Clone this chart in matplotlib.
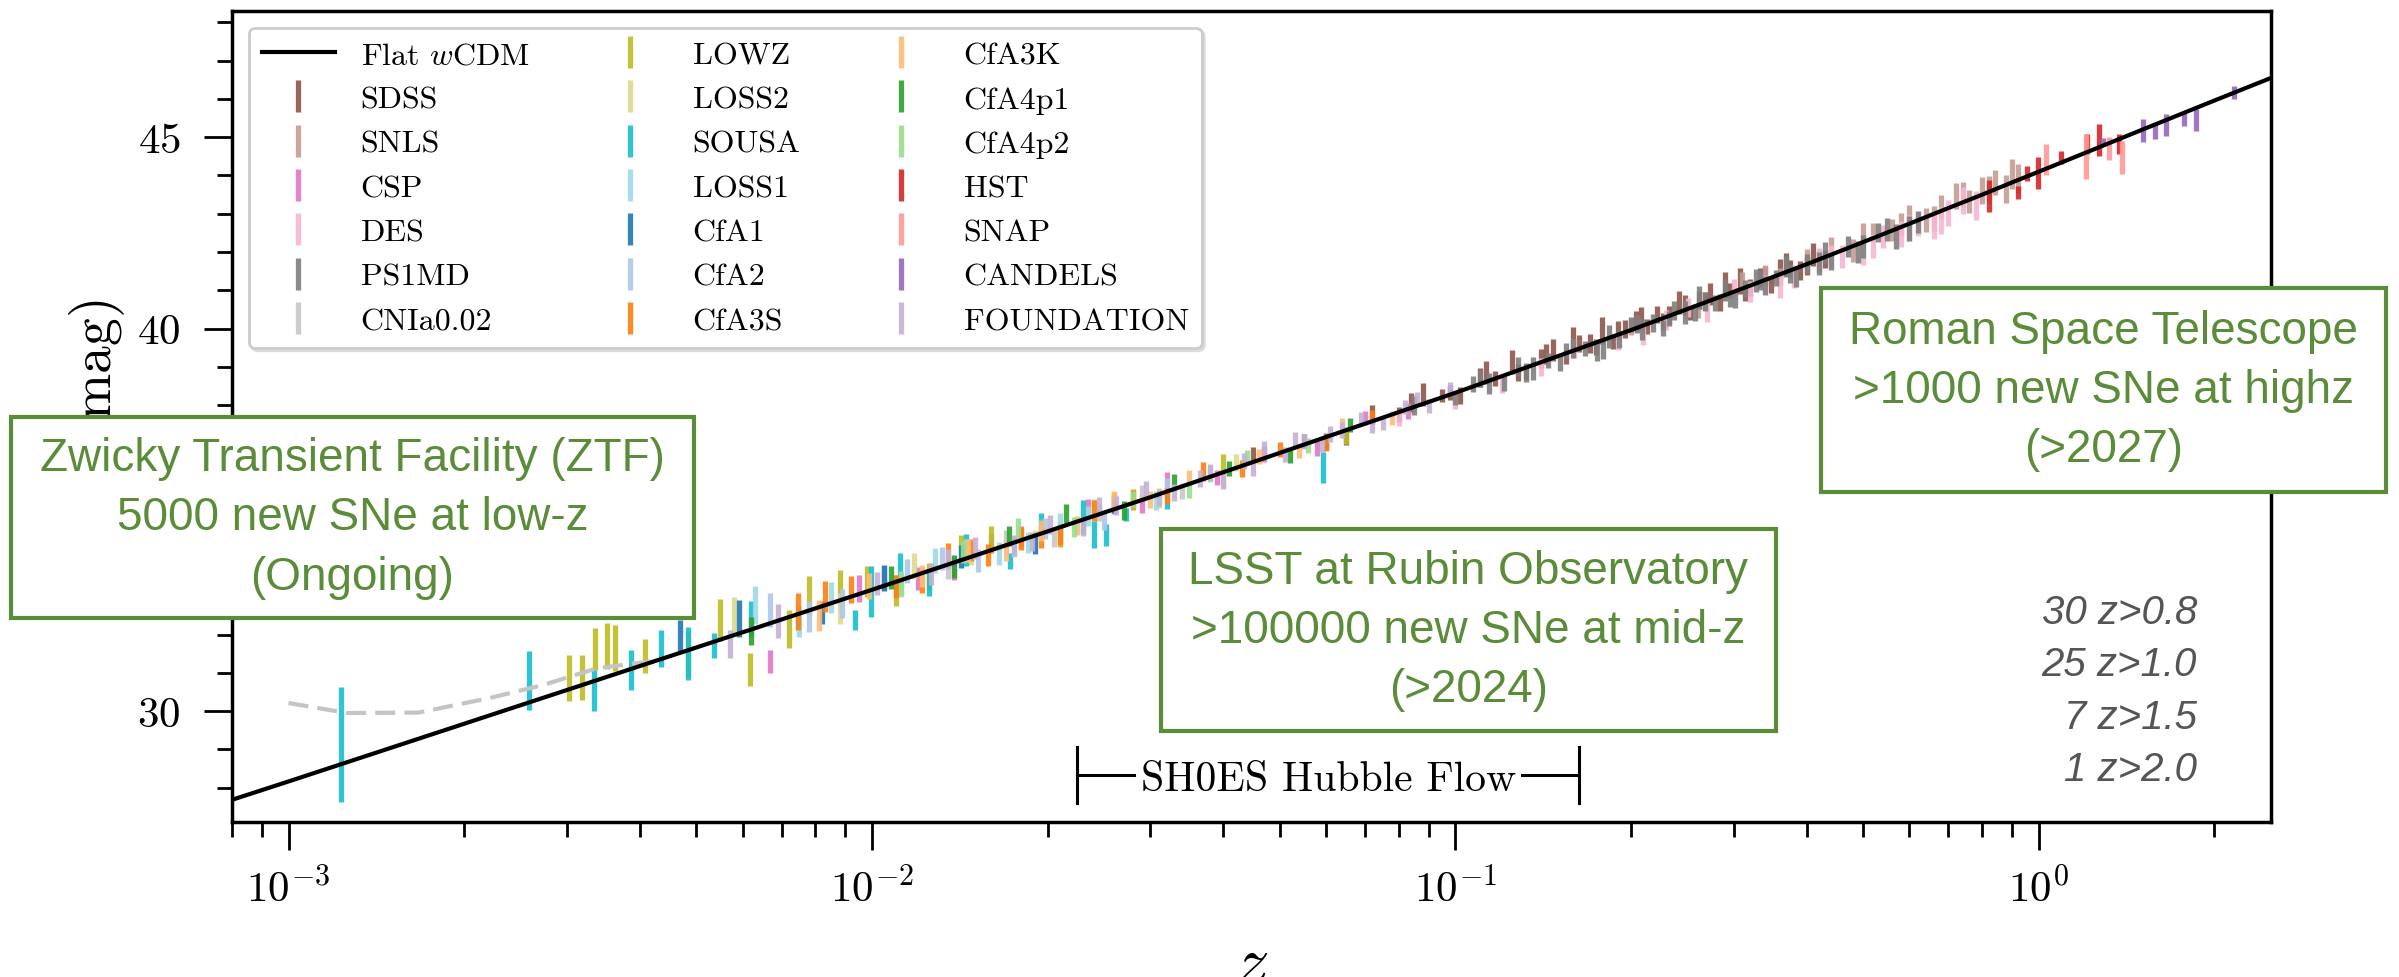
import numpy as np
import matplotlib
matplotlib.use('Agg')
import matplotlib.pyplot as plt
from matplotlib.patches import Rectangle
from matplotlib.ticker import MultipleLocator

plt.rcParams['font.family'] = 'serif'
plt.rcParams['font.serif'] = ['cmr10']
plt.rcParams['mathtext.fontset'] = 'cm'
plt.rcParams['axes.formatter.use_mathtext'] = True

# --- Hubble diagram data: redshift, distance modulus, 1-sigma error per survey ---
model_z = [0.0008, 0.001, 0.01, 0.03, 0.1, 0.2, 0.3, 0.4, 0.5, 0.6, 0.7, 0.8, 0.9, 1.0, 1.2, 1.5, 2.0, 2.5]
model_mu = [27.68, 28.16, 33.17, 35.59, 38.32, 39.96, 40.96, 41.68, 42.26, 42.74, 43.15, 43.50, 43.82, 44.10,
            44.59, 45.19, 45.96, 46.55]

pv_z = [0.001, 0.00126, 0.00167, 0.00221, 0.00273, 0.00338, 0.0042]
pv_mu = [30.21, 29.95, 29.96, 30.34, 30.68, 31.12, 31.30]

sdss_z = [0.055, 0.065, 0.072, 0.08, 0.088, 0.095, 0.102, 0.11, 0.117, 0.125, 0.132, 0.14, 0.147, 0.155, 0.163,
          0.17, 0.178, 0.186, 0.195, 0.204, 0.213, 0.222, 0.232, 0.242, 0.252, 0.262, 0.273, 0.284, 0.296, 0.308,
          0.32, 0.333, 0.347, 0.36, 0.375, 0.39, 0.41, 0.43,
          0.045, 0.06, 0.084, 0.098, 0.113, 0.128, 0.143, 0.159, 0.174, 0.19, 0.208, 0.227, 0.247, 0.268, 0.29,
          0.314, 0.34, 0.368, 0.4]
sdss_mu = [37.05, 37.18, 37.76, 37.75, 38.27, 38.25, 38.24, 38.72, 38.70, 39.13, 38.86, 39.22, 39.44, 39.26, 39.61,
           39.61, 39.95, 39.66, 39.99, 40.20, 40.06, 40.36, 40.34, 40.67, 40.42, 40.74, 40.90, 40.67, 41.00, 41.24,
           41.07, 41.34, 41.14, 41.56, 41.57, 41.52, 41.94, 41.82,
           36.70, 37.05, 38.06, 38.33, 38.85, 38.84, 39.33, 39.70, 39.52, 39.95, 40.27, 40.18, 40.62, 40.72, 41.15,
           40.95, 41.37, 41.67, 41.63]
sdss_err = [0.18, 0.22, 0.25, 0.2, 0.3, 0.18, 0.22, 0.26, 0.2, 0.32, 0.2, 0.24, 0.28, 0.19, 0.22, 0.25, 0.35, 0.2,
            0.24, 0.27, 0.2, 0.22, 0.25, 0.3, 0.2, 0.24, 0.28, 0.22, 0.2, 0.33, 0.22, 0.25, 0.2, 0.27, 0.23, 0.25,
            0.3, 0.24,
            0.2, 0.22, 0.25, 0.2, 0.3, 0.22, 0.26, 0.35, 0.2, 0.25, 0.3, 0.22, 0.26, 0.24, 0.33, 0.22, 0.25, 0.3,
            0.24]

snls_z = [0.2, 0.26, 0.31, 0.36, 0.4, 0.44, 0.48, 0.52, 0.56, 0.6, 0.64, 0.68, 0.72, 0.76, 0.8, 0.84, 0.88, 0.92,
          0.34, 0.42, 0.5, 0.58, 0.66, 0.74, 0.82, 0.9]
snls_mu = [40.06, 40.48, 41.22, 41.36, 41.80, 42.15, 42.05, 42.51, 42.57, 42.94, 42.83, 43.19, 43.47, 43.32, 43.60,
           43.81, 43.64, 43.92,
           41.42, 41.76, 42.46, 42.73, 42.87, 43.48, 43.62, 44.04]
snls_err = [0.22, 0.2, 0.25, 0.22, 0.28, 0.25, 0.3, 0.26, 0.28, 0.3, 0.32, 0.3, 0.34, 0.3, 0.35, 0.33, 0.36, 0.38,
            0.25, 0.28, 0.3, 0.3, 0.32, 0.34, 0.36, 0.38]

csp_z = [0.0067, 0.0095, 0.012, 0.016, 0.021, 0.026, 0.032, 0.039, 0.047, 0.058, 0.07, 0.083,
         0.0105, 0.0138, 0.018, 0.0235, 0.029]
csp_mu = [31.29, 33.21, 33.47, 34.39, 34.65, 35.37, 35.99, 36.10, 36.72, 36.87, 37.67, 37.84,
          33.48, 33.73, 34.56, 35.30, 35.42]
csp_err = [0.3, 0.35, 0.3, 0.25, 0.28, 0.22, 0.25, 0.2, 0.22, 0.2, 0.18, 0.2,
           0.32, 0.3, 0.27, 0.25, 0.23]

des_z = [0.08, 0.12, 0.16, 0.19, 0.23, 0.27, 0.3, 0.34, 0.38, 0.42, 0.46, 0.5, 0.54, 0.58, 0.62, 0.66, 0.7, 0.74,
         0.78, 0.1, 0.14, 0.21, 0.25, 0.32, 0.36, 0.44, 0.52, 0.6, 0.68]
des_mu = [37.65, 38.53, 39.47, 39.65, 40.22, 40.44, 41.06, 41.15, 41.35, 41.83, 41.89, 41.98, 42.41, 42.47, 42.73,
          42.69, 43.03, 43.35, 43.22, 38.12, 39.00, 39.82, 40.55, 40.97, 41.11, 41.88, 42.16, 42.64, 42.82]
des_err = [0.2, 0.22, 0.25, 0.22, 0.26, 0.28, 0.24, 0.26, 0.3, 0.27, 0.3, 0.32, 0.3, 0.33, 0.32, 0.35, 0.34, 0.36,
           0.38, 0.22, 0.24, 0.26, 0.25, 0.28, 0.3, 0.3, 0.32, 0.34, 0.35]

ps1_z = [0.06, 0.085, 0.1, 0.107, 0.114, 0.121, 0.128, 0.136, 0.144, 0.151, 0.159, 0.167, 0.175, 0.183, 0.191, 0.2,
         0.209, 0.218, 0.227, 0.237, 0.247, 0.257, 0.268, 0.279, 0.29, 0.302, 0.314, 0.327, 0.34, 0.354, 0.368,
         0.383, 0.4, 0.42, 0.44, 0.47, 0.5, 0.53, 0.57, 0.62,
         0.11, 0.132, 0.155, 0.179, 0.205, 0.232, 0.262, 0.296, 0.333, 0.375, 0.43, 0.49, 0.55, 0.6]
ps1_mu = [37.05, 37.99, 38.17, 38.55, 38.57, 38.56, 39.01, 38.95, 39.17, 39.10, 39.50, 39.47, 39.41, 39.80, 39.72,
          40.11, 39.98, 40.14, 40.01, 40.47, 40.41, 40.42, 40.71, 40.67, 40.99, 40.77, 41.04, 41.25, 41.13, 41.32,
          41.62, 41.35, 41.70, 41.71, 41.75, 42.15, 42.14, 42.51, 42.41, 42.78,
          38.69, 38.84, 39.42, 39.49, 40.12, 40.27, 40.80, 40.77, 41.27, 41.42, 41.99, 42.00, 42.59, 42.62]
ps1_err = [0.2, 0.25, 0.18, 0.22, 0.28, 0.2, 0.24, 0.3, 0.2, 0.22, 0.26, 0.2, 0.25, 0.3, 0.22, 0.2, 0.28, 0.24, 0.2,
           0.26, 0.3, 0.22, 0.25, 0.2, 0.28, 0.24, 0.22, 0.3, 0.25, 0.2, 0.28, 0.26, 0.24, 0.3, 0.22, 0.27, 0.3,
           0.25, 0.32, 0.28,
           0.22, 0.25, 0.2, 0.28, 0.24, 0.2, 0.3, 0.22, 0.26, 0.24, 0.28, 0.3, 0.3, 0.32]

cnia_z = [0.0105, 0.0135, 0.017, 0.0205, 0.0245, 0.029, 0.034]
cnia_mu = [33.48, 33.73, 34.49, 34.55, 35.20, 35.70, 35.75]
cnia_err = [0.3, 0.28, 0.25, 0.25, 0.22, 0.22, 0.2]

lowz_z = [0.00302, 0.00319, 0.00335, 0.00352, 0.00362, 0.00408, 0.00483, 0.00617, 0.0078, 0.0098, 0.0125, 0.016,
          0.021, 0.028, 0.04, 0.065, 0.0055, 0.0072, 0.0088, 0.011, 0.0142]
lowz_mu = [30.86, 30.88, 31.62, 31.69, 31.65, 31.44, 31.50, 31.08, 33.02, 33.38, 33.51, 34.49, 34.60, 35.53, 36.48,
           37.21, 32.37, 32.15, 33.23, 33.15, 34.24]
lowz_err = [0.61, 0.59, 0.55, 0.6, 0.6, 0.45, 0.6, 0.43, 0.5, 0.4, 0.35, 0.35, 0.3, 0.28, 0.25, 0.22,
            0.55, 0.5, 0.45, 0.4, 0.35]

loss2_z = [0.0058, 0.0088, 0.0118, 0.0148, 0.019, 0.024, 0.031, 0.042]
loss2_mu = [32.48, 32.68, 33.79, 34.13, 34.43, 35.30, 35.57, 36.50]
loss2_err = [0.5, 0.4, 0.35, 0.3, 0.3, 0.25, 0.25, 0.22]

sousa_z = [0.00123, 0.00258, 0.00334, 0.00386, 0.00435, 0.00483, 0.00536, 0.00748, 0.00937, 0.00997, 0.01116,
           0.01448, 0.01726, 0.023, 0.024, 0.0252, 0.0272, 0.0594, 0.0062, 0.0125, 0.0195, 0.032]
sousa_mu = [29.13, 30.80, 30.54, 31.08, 31.64, 31.50, 31.72, 32.40, 32.37, 33.13, 33.82, 34.21, 33.92, 35.08, 34.62,
            34.60, 35.14, 36.37, 32.42, 33.36, 34.89, 35.54]
sousa_err = [1.51, 0.76, 0.54, 0.52, 0.48, 0.7, 0.33, 0.23, 0.26, 0.67, 0.32, 0.41, 0.2, 0.45, 0.35, 0.29, 0.17,
             0.41, 0.45, 0.35, 0.3, 0.25]

loss1_z = [0.0063, 0.0085, 0.0112, 0.0145, 0.0185, 0.0235, 0.0307, 0.038, 0.0075, 0.0128, 0.0165, 0.021]
loss1_mu = [32.78, 32.97, 33.32, 34.19, 34.41, 35.10, 35.50, 36.22, 32.34, 33.94, 34.12, 34.90]
loss1_err = [0.5, 0.4, 0.35, 0.3, 0.28, 0.25, 0.25, 0.22, 0.4, 0.32, 0.3, 0.27]

cfa1_z = [0.00469, 0.00592, 0.0082, 0.0105, 0.0142, 0.019, 0.026]
cfa1_mu = [31.94, 32.42, 32.58, 33.48, 34.04, 34.38, 35.42]
cfa1_err = [0.43, 0.48, 0.3, 0.35, 0.3, 0.28, 0.25]

cfa2_z = [0.0067, 0.0089, 0.0115, 0.0152, 0.0198, 0.025, 0.032, 0.0078, 0.0132, 0.0175]
cfa2_mu = [32.64, 32.81, 33.66, 33.94, 34.77, 34.99, 35.86, 32.47, 33.98, 34.30]
cfa2_err = [0.45, 0.38, 0.32, 0.3, 0.28, 0.26, 0.24, 0.4, 0.3, 0.28]

cfa3s_z = [0.00746, 0.0092, 0.011, 0.0135, 0.0158, 0.018, 0.021, 0.024, 0.028, 0.032, 0.037, 0.043, 0.05, 0.06,
           0.072, 0.0083, 0.0122, 0.0148, 0.0195, 0.026]
cfa3s_mu = [32.60, 33.18, 33.25, 34.08, 34.08, 34.51, 34.60, 35.25, 35.54, 35.62, 36.26, 36.35, 36.84, 37.00, 37.68,
            33.00, 33.41, 34.21, 34.54, 35.47]
cfa3s_err = [0.48, 0.35, 0.3, 0.32, 0.28, 0.3, 0.25, 0.28, 0.25, 0.22, 0.25, 0.22, 0.2, 0.2, 0.18,
             0.4, 0.32, 0.3, 0.28, 0.25]

cfa3k_z = [0.0081, 0.0099, 0.0122, 0.0146, 0.017, 0.0195, 0.0225, 0.026, 0.03, 0.035, 0.04, 0.046, 0.054, 0.064,
           0.078]
cfa3k_mu = [32.50, 33.27, 33.53, 34.20, 34.19, 34.72, 34.84, 35.49, 35.54, 36.09, 36.03, 36.65, 36.81, 37.48, 37.67]
cfa3k_err = [0.4, 0.35, 0.3, 0.3, 0.28, 0.27, 0.25, 0.25, 0.22, 0.22, 0.2, 0.2, 0.2, 0.18, 0.18]

cfa4p1_z = [0.0062, 0.0108, 0.0138, 0.0172, 0.0215, 0.027, 0.033, 0.041, 0.052, 0.066]
cfa4p1_mu = [32.09, 33.49, 33.78, 34.58, 35.16, 35.24, 35.98, 36.34, 36.68, 37.47]
cfa4p1_err = [0.37, 0.3, 0.3, 0.26, 0.25, 0.24, 0.22, 0.2, 0.2, 0.18]

cfa4p2_z = [0.0112, 0.0143, 0.0178, 0.0222, 0.028, 0.035, 0.044, 0.056]
cfa4p2_mu = [33.32, 34.16, 34.79, 34.81, 35.54, 35.79, 36.63, 36.94]
cfa4p2_err = [0.3, 0.28, 0.26, 0.25, 0.22, 0.22, 0.2, 0.2]

hst_z = [0.823, 0.92, 0.954, 0.996, 1.092, 1.21, 1.27, 1.37]
hst_mu = [43.46, 43.56, 44.06, 44.07, 44.48, 44.82, 44.93, 44.82]
hst_err = [0.41, 0.17, 0.2, 0.41, 0.17, 0.26, 0.41, 0.26]

snap_z = [1.03, 1.203, 1.32, 1.39]
snap_mu = [44.41, 44.50, 44.70, 44.48]
snap_err = [0.41, 0.58, 0.3, 0.43]

candels_z = [1.29, 1.507, 1.58, 1.65, 1.77, 1.86, 2.16]
candels_mu = [44.87, 45.17, 45.15, 45.32, 45.47, 45.45, 46.16]
candels_err = [0.1, 0.3, 0.2, 0.28, 0.17, 0.28, 0.17]

found_z = [0.0057, 0.0069, 0.0102, 0.0126, 0.015, 0.0175, 0.0202, 0.023, 0.0262, 0.0295, 0.033, 0.0365, 0.04,
           0.0435, 0.047, 0.051, 0.055, 0.059, 0.064, 0.069, 0.075, 0.082, 0.09, 0.098,
           0.0135, 0.0188, 0.0245, 0.031, 0.038, 0.045, 0.053, 0.061, 0.072, 0.086]
found_mu = [31.75, 32.35, 33.34, 33.58, 34.26, 34.35, 34.87, 34.83, 35.37, 35.78, 35.71, 36.08, 36.03, 36.54, 36.85,
            36.70, 37.05, 36.96, 37.35, 37.65, 37.54, 37.95, 37.97, 38.43,
            33.98, 34.44, 35.35, 35.59, 36.24, 36.35, 37.09, 37.24, 37.46, 38.16]
found_err = [0.36, 0.45, 0.3, 0.28, 0.28, 0.26, 0.25, 0.25, 0.24, 0.24, 0.22, 0.22, 0.22, 0.2, 0.2, 0.2, 0.2, 0.2,
             0.2, 0.18, 0.18, 0.18, 0.18, 0.18,
             0.26, 0.25, 0.24, 0.22, 0.22, 0.2, 0.2, 0.2, 0.18, 0.18]

survey_names = ['SDSS', 'SNLS', 'CSP', 'DES', 'PS1MD', 'CNIa0.02', 'LOWZ', 'LOSS2', 'SOUSA', 'LOSS1',
                'CfA1', 'CfA2', 'CfA3S', 'CfA3K', 'CfA4p1', 'CfA4p2', 'HST', 'SNAP', 'CANDELS', 'FOUNDATION']

shoes_range = [0.0225, 0.163]
shoes_mu = 28.33

count_labels = ['30 z>0.8', '25 z>1.0', '7 z>1.5', '1 z>2.0']

survey_data = [
    (sdss_z, sdss_mu, sdss_err), (snls_z, snls_mu, snls_err), (csp_z, csp_mu, csp_err),
    (des_z, des_mu, des_err), (ps1_z, ps1_mu, ps1_err), (cnia_z, cnia_mu, cnia_err),
    (lowz_z, lowz_mu, lowz_err), (loss2_z, loss2_mu, loss2_err), (sousa_z, sousa_mu, sousa_err),
    (loss1_z, loss1_mu, loss1_err), (cfa1_z, cfa1_mu, cfa1_err), (cfa2_z, cfa2_mu, cfa2_err),
    (cfa3s_z, cfa3s_mu, cfa3s_err), (cfa3k_z, cfa3k_mu, cfa3k_err), (cfa4p1_z, cfa4p1_mu, cfa4p1_err),
    (cfa4p2_z, cfa4p2_mu, cfa4p2_err), (hst_z, hst_mu, hst_err), (snap_z, snap_mu, snap_err),
    (candels_z, candels_mu, candels_err), (found_z, found_mu, found_err),
]

# --- figure ---
W, H = 2399, 978
fig = plt.figure(figsize=(W / 100, H / 100), dpi=100)
ax = fig.add_axes([232 / W, 1 - 823 / H, (2271 - 232) / W, (823 - 12) / H])

tab20 = plt.get_cmap('tab20')
handles = []
for i, (name, (z, mu, err)) in enumerate(zip(survey_names, survey_data)):
    eb = ax.errorbar(z, mu, yerr=err, fmt='none', ecolor=tab20((i + 10) % 20), elinewidth=3.8,
                     alpha=0.9, capsize=0, zorder=2, label=name)
    handles.append(eb)

ax.plot(pv_z, pv_mu, color='#c4c4c4', lw=3, dashes=(4.8, 2.2), zorder=3)
model_line, = ax.plot(model_z, model_mu, color='black', lw=3, zorder=4, label='Flat $w$CDM')

# SH0ES Hubble-flow bracket
lo, hi = shoes_range
ax.plot([lo, hi], [shoes_mu, shoes_mu], color='black', lw=2.2, zorder=4)
for zb in shoes_range:
    ax.plot([zb, zb], [shoes_mu - 0.74, shoes_mu + 0.74], color='black', lw=2.2, zorder=4)
ax.text(np.sqrt(lo * hi), shoes_mu, 'SH0ES Hubble Flow', fontsize=30, ha='center', va='center_baseline',
        zorder=5, bbox=dict(boxstyle='square,pad=0.12', fc='white', ec='none'))

ax.set_xscale('log')
ax.set_xlim(8e-4, 2.5)
ax.set_ylim(27.1, 48.3)
ax.set_yticks([30, 35, 40, 45])
ax.yaxis.set_minor_locator(MultipleLocator(1))
ax.tick_params(which='major', direction='out', length=20, width=2, labelsize=31, top=False, right=False)
ax.tick_params(which='minor', direction='out', length=10.5, width=2, top=False, right=False)
ax.tick_params(axis='x', which='major', pad=12)
ax.tick_params(axis='y', which='major', pad=17)
for sp in ax.spines.values():
    sp.set_linewidth(2.5)

ax.set_xlabel('$z$', fontsize=48)
ax.xaxis.set_label_coords(0.5, -0.14)
ax.set_ylabel(r'$\mu$ (mag)', fontsize=40)
ax.yaxis.set_label_coords(-0.0515, 0.5265)

leg = ax.legend([model_line] + handles, ['Flat $w$CDM'] + survey_names, ncol=3, loc='upper left',
                bbox_to_anchor=(0.0083, 0.979), borderaxespad=0, fontsize=23, handlelength=2.3,
                fancybox=True, framealpha=1, edgecolor='#cccccc',
                shadow={'color': '#dcdcdc', 'alpha': 1})
leg.get_frame().set_linewidth(2)
leg.set_zorder(6)

# --- survey call-out boxes (figure pixel layout: left, top, width, height) ---
green = '#5b8c39'
callouts = [
    ('Zwicky Transient Facility (ZTF)\n5000 new SNe at low-z\n(Ongoing)', (11, 418, 683, 201)),
    ('LSST at Rubin Observatory\n>100000 new SNe at mid-z\n(>2024)', (1161, 530, 615, 202)),
    ('Roman Space Telescope\n>1000 new SNe at highz\n(>2027)', (1821, 289, 565, 204)),
]
for label, (x0, y0, bw, bh) in callouts:
    rect = Rectangle((x0 / W, 1 - (y0 + bh) / H), bw / W, bh / H, transform=fig.transFigure,
                     facecolor='white', edgecolor=green, lw=3, zorder=10)
    fig.add_artist(rect)
    fig.text((x0 + bw / 2) / W, 1 - (y0 + bh / 2) / H, label, ha='center', va='center',
             fontsize=33, family='Liberation Sans', color=green, linespacing=1.45, zorder=11)

for k, label in enumerate(count_labels):
    fig.text(2197 / W, 1 - (613 + 52.3 * k) / H, label, ha='right', va='center', fontsize=29,
             family='Liberation Sans', style='italic', color='#555555')

fig.savefig('out.png', dpi=100)
